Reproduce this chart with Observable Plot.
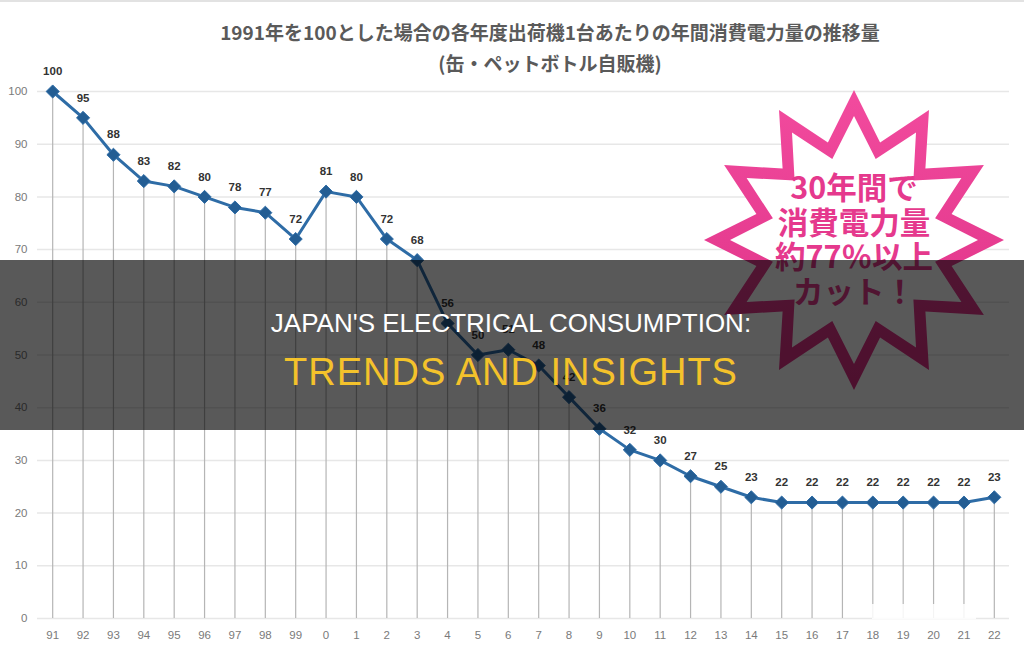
<!DOCTYPE html>
<html>
<head>
<meta charset="utf-8">
<script src="https://cdn.jsdelivr.net/npm/d3@7"></script>
<script src="https://cdn.jsdelivr.net/npm/@observablehq/plot@0.6"></script>
<style>
  html, body { margin: 0; padding: 0; background: #fff; }
  #wrap { position: relative; width: 1024px; height: 646px; overflow: hidden; background: #fff; }
  #chart { position: absolute; left: 0; top: 0; }
  #topline { position: absolute; left: 0; top: 0; width: 1024px; height: 2px; background: #e2e2e2; }
  .ttl { position: absolute; left: 0; width: 1100px; text-align: center; font-family: "Noto Sans CJK JP", sans-serif; font-weight: bold; color: #5a5a5a; font-size: 19px; line-height: 1; white-space: nowrap; }
  #overlay { position: absolute; left: 0; top: 0; }
</style>
</head>
<body>
<div id="wrap">
  <div id="chart"></div>
  <div id="topline"></div>
  <div class="ttl" id="t1" style="top:22px;"></div>
  <div class="ttl" id="t2" style="top:53px;"></div>
  <svg id="overlay" width="1024" height="646"></svg>
</div>
<script>
// ---- data ----
const years = ["91","92","93","94","95","96","97","98","99","0","1","2","3","4","5","6","7","8","9","10","11","12","13","14","15","16","17","18","19","20","21","22"];
const values = [100,95,88,83,82,80,78,77,72,81,80,72,68,56,50,51,48,42,36,32,30,27,25,23,22,22,22,22,22,22,22,23];
const yTicks = [0,10,20,30,40,50,60,70,80,90,100];
const titleLine1 = "1991年を100とした場合の各年度出荷機1台あたりの年間消費電力量の推移量";
const titleLine2 = "(缶・ペットボトル自販機)";
const starLines = ["30年間で", "消費電力量", "約77％以上", "カット！"];
const bannerTitle = "JAPAN'S ELECTRICAL CONSUMPTION:";
const bannerSubtitle = "TRENDS AND INSIGHTS";

const data = years.map((y, i) => ({year: y, value: values[i]}));

document.getElementById("t1").textContent = titleLine1;
document.getElementById("t2").textContent = titleLine2;

const chart = Plot.plot({
  width: 1024,
  height: 646,
  marginLeft: 37,
  marginRight: 15,
  marginTop: 91,
  marginBottom: 28,
  style: {fontFamily: "'Liberation Sans', Arial, sans-serif", fontSize: "11.5px", color: "#7a7a7a", background: "transparent", overflow: "visible"},
  x: {type: "point", domain: years, padding: 0.5, round: false, label: null, tickSize: 0, tickPadding: 12},
  y: {domain: [0, 100], ticks: yTicks, label: null, tickSize: 0, tickPadding: 10},
  marks: [
    Plot.ruleY(yTicks, {stroke: "#e7e7e7", strokeWidth: 1.5}),
    Plot.ruleX(data, {x: "year", y1: 0, y2: "value", stroke: "#b5b5b5", strokeWidth: 1.2}),
    Plot.line(data, {x: "year", y: "value", stroke: "#2e6ca6", strokeWidth: 3}),
    Plot.dot(data, {x: "year", y: "value", symbol: "diamond2", r: 5.9, fill: "#235d93", stroke: "#2e6ca6", strokeWidth: 1}),
    Plot.text(data, {x: "year", y: "value", text: d => String(d.value), dy: -20, fill: "#333333", fontSize: 11.5, fontWeight: "bold"})
  ]
});
document.getElementById("chart").appendChild(chart);

// ---- overlay: starburst + banner ----
const ov = d3.select("#overlay");
const defs = ov.append("defs");
const grad = defs.append("linearGradient").attr("id", "pinkg").attr("x1", 0).attr("y1", 0).attr("x2", 0).attr("y2", 1);
grad.append("stop").attr("offset", "0%").attr("stop-color", "#f24b9e");
grad.append("stop").attr("offset", "100%").attr("stop-color", "#dc2f84");

// faded watermark patch near bottom right
ov.append("rect").attr("x", 872).attr("y", 604).attr("width", 104).attr("height", 15).attr("fill", "#fff").attr("opacity", 0.85);

function starPath(cx, cy, R, r, n) {
  const pts = [];
  for (let i = 0; i < 2 * n; i++) {
    const a = -Math.PI / 2 + i * Math.PI / n;
    const rad = i % 2 === 0 ? R : r;
    pts.push([cx + rad * Math.cos(a), cy + rad * Math.sin(a)]);
  }
  return "M" + pts.map(p => p[0].toFixed(1) + "," + p[1].toFixed(1)).join("L") + "Z";
}
const scx = 854, scy = 240;
ov.append("path").attr("d", starPath(scx, scy, 150, 101, 12)).attr("fill", "url(#pinkg)");
ov.append("path").attr("d", starPath(scx, scy, 124, 84, 12)).attr("fill", "#fff");

const st = ov.append("text")
  .attr("text-anchor", "middle")
  .attr("font-family", "'Noto Sans CJK JP', sans-serif")
  .attr("font-weight", "bold")
  .attr("font-size", 30.5)
  .attr("fill", "#e5398d");
starLines.forEach((s, i) => {
  st.append("tspan").attr("x", scx).attr("y", 199 + i * 34.5).text(s);
});

// banner
ov.append("rect").attr("x", 0).attr("y", 260).attr("width", 1024).attr("height", 170).attr("fill", "rgba(0,0,0,0.65)");
ov.append("text").attr("x", 511).attr("y", 332).attr("text-anchor", "middle")
  .attr("font-family", "'Liberation Sans', Arial, sans-serif").attr("font-size", 26)
  .attr("fill", "#ffffff").text(bannerTitle);
ov.append("text").attr("x", 511).attr("y", 385).attr("text-anchor", "middle")
  .attr("font-family", "'Liberation Sans', Arial, sans-serif").attr("font-size", 38)
  .attr("letter-spacing", "1px")
  .attr("fill", "#f4c22b").text(bannerSubtitle);
</script>
</body>
</html>
